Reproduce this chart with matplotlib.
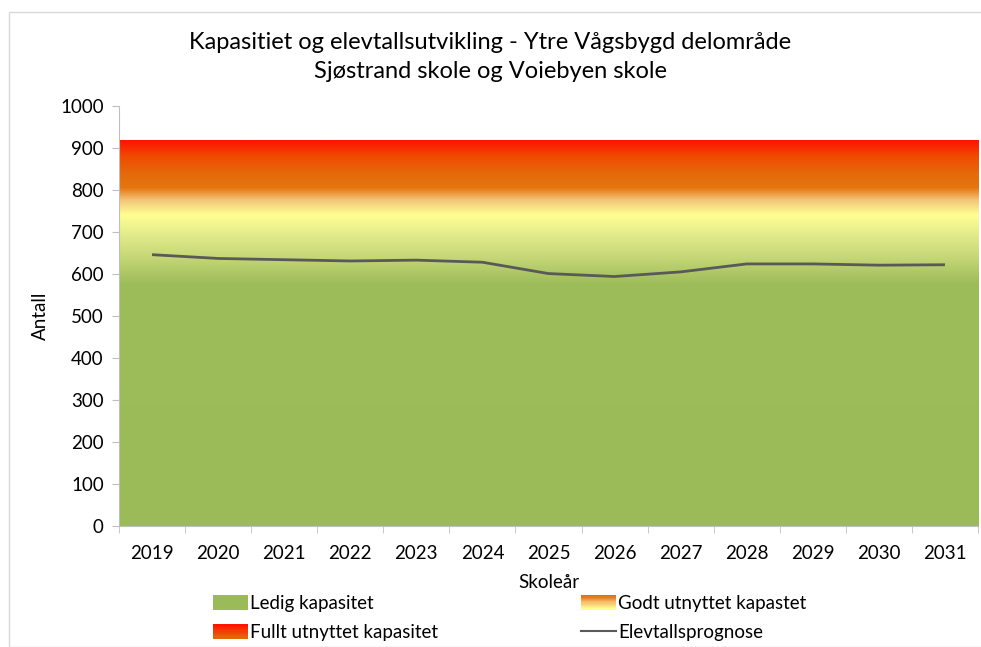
import numpy as np
import matplotlib
matplotlib.use("Agg")
import matplotlib.pyplot as plt
from matplotlib.colors import LinearSegmentedColormap
from matplotlib.patches import Rectangle, Patch
from matplotlib.lines import Line2D
from matplotlib.legend_handler import HandlerBase

plt.rcParams['font.family'] = ['Lato', 'DejaVu Sans']

years = [2019, 2020, 2021, 2022, 2023, 2024, 2025, 2026, 2027, 2028, 2029, 2030, 2031]
prognose = [646, 637, 634, 631, 633, 628, 601, 594, 605, 624, 624, 621, 622]
kapasitet = 917
yticks = [0, 100, 200, 300, 400, 500, 600, 700, 800, 900, 1000]

title = "Kapasitiet og elevtallsutvikling - Ytre Vågsbygd delområde\nSjøstrand skole og Voiebyen skole"

# gradient stops (value, colour)
stops = [(0, '#9BBB59'), (575, '#9DBC5A'), (640, '#C6D777'), (700, '#E6EE8E'),
         (740, '#FFFF92'), (775, '#F4C67A'), (805, '#E5760F'), (840, '#E4690A'),
         (880, '#F04A02'), (917, '#FF1400')]

fig = plt.figure(figsize=(9.81, 6.47), dpi=100)
# outer border
fig.patches.append(Rectangle((9/981, 0), 1, 1 - 12/647, transform=fig.transFigure,
                             fill=False, edgecolor='#D9D9D9', linewidth=1))
ax = fig.add_axes([119/981, 1 - 526/647, (978 - 119)/981, (526 - 106)/647])

n = len(years)
x = np.arange(n)
x0, x1 = -0.5, n - 0.5
cmap = LinearSegmentedColormap.from_list(
    'cap', [(v / kapasitet, c) for v, c in stops])
grad = np.linspace(0, 1, 512).reshape(-1, 1)
ax.imshow(grad, cmap=cmap, aspect='auto', origin='lower',
          extent=[x0, x1, 0, kapasitet], zorder=1, interpolation='bilinear')
ax.plot(x, prognose, color='#595959', linewidth=2, zorder=3, solid_capstyle='butt')

ax.set_xlim(x0, x1)
ax.set_ylim(0, 1000)
ax.set_yticks(yticks)
ax.set_yticklabels([str(v) for v in yticks], fontsize=13.5)
ax.set_xticks(x)
ax.set_xticklabels([str(y) for y in years], fontsize=13.5)
ax.set_xticks(np.arange(n + 1) - 0.5, minor=True)
ax.tick_params(axis='x', which='major', length=0, pad=14)
ax.tick_params(axis='x', which='minor', length=5, color='#BFBFBF')
ax.tick_params(axis='y', length=5, color='#BFBFBF', pad=6)
for s in ['top', 'right']:
    ax.spines[s].set_visible(False)
for s in ['left', 'bottom']:
    ax.spines[s].set_color('#BFBFBF')
ax.set_ylabel('Antall', fontsize=13.5, labelpad=8)
ax.set_xlabel('Skoleår', fontsize=13.5, labelpad=8)
fig.text(0.5, 1 - 57/647, title, ha='center', va='center', fontsize=17, linespacing=1.5)


class GradHandler(HandlerBase):
    def __init__(self, colors):
        super().__init__()
        self.colors = colors

    def create_artists(self, legend, orig_handle, xdescent, ydescent, width, height, fontsize, trans):
        arts = []
        cm = LinearSegmentedColormap.from_list('h', self.colors)
        steps = 12
        for i in range(steps):
            r = Rectangle((-xdescent, -ydescent + height * i / steps), width, height / steps + 0.3,
                          facecolor=cm(1 - i / (steps - 1)), edgecolor='none', transform=trans)
            arts.append(r)
        return arts


h_ledig = Patch(facecolor='#9BBB59')
h_godt = Patch(facecolor='#E46C0A')
h_fullt = Patch(facecolor='#FF1400')
h_line = Line2D([], [], color='#595959', linewidth=1.5)
leg = fig.legend([h_ledig, h_fullt, h_godt, h_line],
                 ['Ledig kapasitet', 'Fullt utnyttet kapasitet', 'Godt utnyttet kapastet', 'Elevtallsprognose'],
                 ncol=2, loc='center left', bbox_to_anchor=(213/981, 1 - 618/647), frameon=False,
                 fontsize=13.5, handlelength=1.85, handleheight=0.8, handletextpad=0.15,
                 columnspacing=7.6, labelspacing=0.65, borderpad=0, borderaxespad=0,
                 handler_map={h_godt: GradHandler(['#E46C0A', '#F5C070', '#FFFF92']),
                              h_fullt: GradHandler(['#FF1400', '#E4690A'])})

fig.savefig('out.png', dpi=100)
